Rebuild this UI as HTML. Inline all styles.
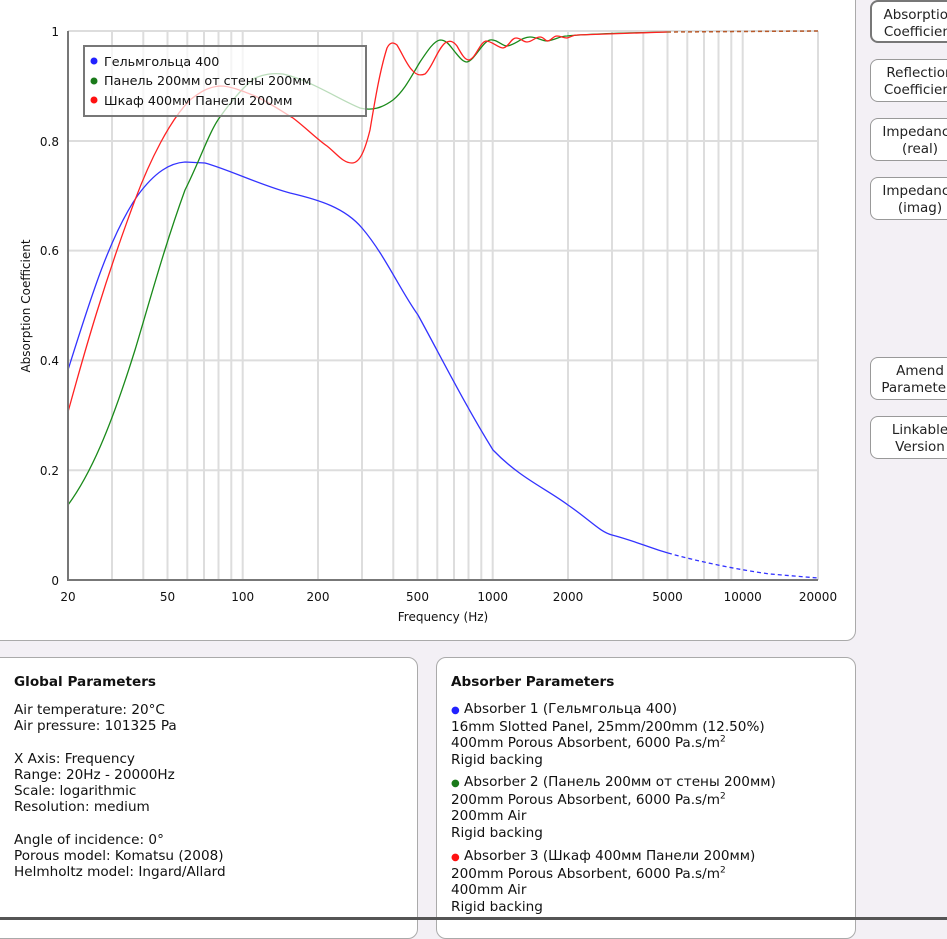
<!DOCTYPE html>
<html><head><meta charset="utf-8">
<style>
body{margin:0;width:947px;height:920px;overflow:hidden;background:#f3f0f5;font-family:"DejaVu Sans","Liberation Sans",sans-serif;position:relative}
.panel{position:absolute;background:#fff;border:1px solid #aaa;border-radius:10px}
.btn{position:absolute;left:870px;width:100px;height:43px;background:#fff;border:1px solid #999;border-radius:8px;font-size:13.5px;text-align:center;line-height:17px;color:#222;box-sizing:border-box;padding-top:5px}
.t{position:absolute;font-size:13.6px;color:#111;line-height:16.2px;white-space:nowrap}
sup{font-size:9px;line-height:0}
</style></head><body>
<div class="panel" style="left:-10px;top:-10px;width:864px;height:649px"></div>
<div class="btn" style="top:0;border:2px solid #777">Absorption<br>Coefficient</div>
<div class="btn" style="top:59px">Reflection<br>Coefficient</div>
<div class="btn" style="top:118px">Impedance<br>(real)</div>
<div class="btn" style="top:177px">Impedance<br>(imag)</div>
<div class="btn" style="top:357px">Amend<br>Parameters</div>
<div class="btn" style="top:416px">Linkable<br>Version</div>

<svg style="position:absolute;left:0;top:0" width="856" height="640">
<g stroke="#ddd" stroke-width="2">
<line x1="112" y1="31" x2="112" y2="580"/><line x1="143.3" y1="31" x2="143.3" y2="580"/><line x1="167.5" y1="31" x2="167.5" y2="580"/><line x1="187.3" y1="31" x2="187.3" y2="580"/><line x1="204" y1="31" x2="204" y2="580"/><line x1="218.5" y1="31" x2="218.5" y2="580"/><line x1="231.3" y1="31" x2="231.3" y2="580"/><line x1="242.7" y1="31" x2="242.7" y2="580"/>
<line x1="318" y1="31" x2="318" y2="580"/><line x1="362" y1="31" x2="362" y2="580"/><line x1="393.3" y1="31" x2="393.3" y2="580"/><line x1="417.5" y1="31" x2="417.5" y2="580"/><line x1="437.3" y1="31" x2="437.3" y2="580"/><line x1="454" y1="31" x2="454" y2="580"/><line x1="468.5" y1="31" x2="468.5" y2="580"/><line x1="481.3" y1="31" x2="481.3" y2="580"/><line x1="492.7" y1="31" x2="492.7" y2="580"/>
<line x1="568" y1="31" x2="568" y2="580"/><line x1="612" y1="31" x2="612" y2="580"/><line x1="643.3" y1="31" x2="643.3" y2="580"/><line x1="667.5" y1="31" x2="667.5" y2="580"/><line x1="687.3" y1="31" x2="687.3" y2="580"/><line x1="704" y1="31" x2="704" y2="580"/><line x1="718.5" y1="31" x2="718.5" y2="580"/><line x1="731.3" y1="31" x2="731.3" y2="580"/><line x1="742.7" y1="31" x2="742.7" y2="580"/><line x1="818" y1="31" x2="818" y2="580"/>
<line x1="68" y1="31" x2="818" y2="31"/><line x1="68" y1="141" x2="818" y2="141"/><line x1="68" y1="250.6" x2="818" y2="250.6"/><line x1="68" y1="360.4" x2="818" y2="360.4"/><line x1="68" y1="470.2" x2="818" y2="470.2"/>
</g>
<g fill="none" stroke-width="1.3" stroke-linejoin="round">
<path stroke="#33f" d="M68,370 C90,300 110,235 138,195 C155,172 170,163 185,162 L205,163 C230,170 260,185 290,193 C320,200 345,208 362,228 C385,255 400,290 418,315 C440,355 465,405 493,450 C520,478 545,488 568,505 C590,520 600,532 612,535 C635,541 650,548 668,553"/>
<path stroke="#33f" stroke-dasharray="4,3" d="M668,553 C700,562 740,570 770,574 L818,578"/>
<path stroke="#1a8a1a" d="M68,505 C90,475 110,430 135,350 C150,300 165,245 185,190 C200,160 210,130 220,117 C232,100 243,87 255,78 C265,74 272,73 283,74 C310,80 340,100 360,108 C372,111 382,108 393,100 C405,90 412,75 420,62 C428,50 434,41 440,40 C447,40 450,46 455,52 C460,58 463,62 467,62 C475,60 482,42 490,40 C497,39 502,46 507,46 C515,45 522,37 530,37 C537,37 542,41 547,41 C555,40 560,36 567,36 C585,34 620,33 667,32"/>
<path stroke="#f22" d="M68,412 C85,350 105,280 135,200 C150,160 170,120 190,100 C200,92 208,87 220,86 C230,86 240,90 255,96 C270,103 283,112 293,118 C305,127 318,140 327,146 C337,154 343,163 352,163 C360,163 365,150 370,130 C375,100 380,70 387,48 C390,42 393,42 397,45 C403,55 407,65 412,70 C416,75 420,76 425,74 C432,68 437,50 445,43 C450,40 453,41 457,46 C462,55 465,60 469,60 C476,58 480,42 486,41 C492,41 498,48 503,48 C509,47 511,38 516,38 C521,38 523,42 527,42 C532,42 535,37 540,37 C544,37 545,41 548,41 C552,40 553,36 557,36 C561,36 563,38 567,38 C571,37 573,35 577,35 C600,34 630,33 667,32"/>
<path stroke="#b85a2a" stroke-width="1.5" stroke-dasharray="4,3" d="M667,32 L818,31"/>
</g>
<g stroke="#777" stroke-width="2"><line x1="68" y1="31" x2="68" y2="581"/><line x1="67" y1="580" x2="818" y2="580"/></g>
<g font-family="DejaVu Sans, sans-serif" font-size="12" fill="#111" text-anchor="end">
<text x="59" y="36">1</text><text x="59" y="146">0.8</text><text x="59" y="255">0.6</text><text x="59" y="365">0.4</text><text x="59" y="475">0.2</text><text x="59" y="585">0</text>
</g>
<g font-family="DejaVu Sans, sans-serif" font-size="12" fill="#111" text-anchor="middle">
<text x="68" y="601">20</text><text x="167.5" y="601">50</text><text x="242.7" y="601">100</text><text x="318" y="601">200</text><text x="417.5" y="601">500</text><text x="492.7" y="601">1000</text><text x="568" y="601">2000</text><text x="667.5" y="601">5000</text><text x="742.7" y="601">10000</text><text x="818" y="601">20000</text>
<text x="443" y="621">Frequency (Hz)</text>
<text transform="translate(30,306) rotate(-90)">Absorption Coefficient</text>
</g>
<rect x="84" y="46" width="282" height="70" fill="#fff" fill-opacity="0.7" stroke="#777" stroke-width="2"/>
<g font-family="DejaVu Sans, sans-serif" font-size="12.7" fill="#111">
<circle cx="94" cy="61" r="3.5" fill="#22f"/><text x="104" y="66">Гельмгольца 400</text>
<circle cx="94" cy="81" r="3.5" fill="#1a7a1a"/><text x="104" y="85">Панель 200мм от стены 200мм</text>
<circle cx="94" cy="100" r="3.5" fill="#f11"/><text x="104" y="105">Шкаф 400мм Панели 200мм</text>
</g>
</svg>

<div class="panel" style="left:-10px;top:657px;width:426px;height:280px"></div>
<div class="panel" style="left:436px;top:657px;width:418px;height:280px"></div>
<div class="t" style="left:14px;top:674px;font-weight:bold">Global Parameters</div>
<div class="t" style="left:14px;top:702px">Air temperature: 20°C<br>Air pressure: 101325 Pa<br><br>X Axis: Frequency<br>Range: 20Hz - 20000Hz<br>Scale: logarithmic<br>Resolution: medium<br><br>Angle of incidence: 0°<br>Porous model: Komatsu (2008)<br>Helmholtz model: Ingard/Allard</div>
<div class="t" style="left:451px;top:674px;font-weight:bold">Absorber Parameters</div>
<div class="t" style="left:451px;top:701px"><span style="color:#22f;font-size:10px">●</span> Absorber 1 (Гельмгольца 400)<br>16mm Slotted Panel, 25mm/200mm (12.50%)<br>400mm Porous Absorbent, 6000 Pa.s/m<sup>2</sup><br>Rigid backing</div>
<div class="t" style="left:451px;top:774px"><span style="color:#1a7a1a;font-size:10px">●</span> Absorber 2 (Панель 200мм от стены 200мм)<br>200mm Porous Absorbent, 6000 Pa.s/m<sup>2</sup><br>200mm Air<br>Rigid backing</div>
<div class="t" style="left:451px;top:848px"><span style="color:#f11;font-size:10px">●</span> Absorber 3 (Шкаф 400мм Панели 200мм)<br>200mm Porous Absorbent, 6000 Pa.s/m<sup>2</sup><br>400mm Air<br>Rigid backing</div>
<div style="position:absolute;left:0;top:917px;width:947px;height:3px;background:#555"></div>
</body></html>
